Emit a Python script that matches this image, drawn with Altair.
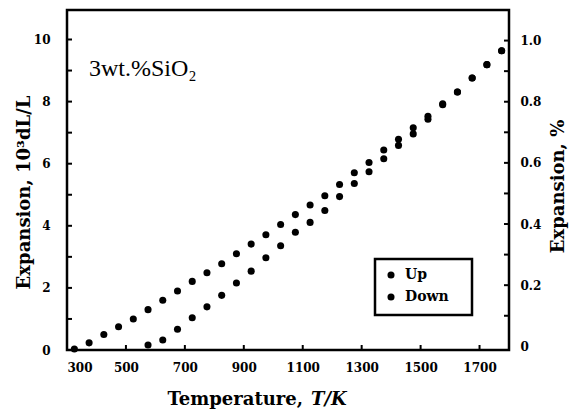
import altair as alt
import pandas as pd

# ---- data ----
temps_up = [325, 375, 425, 475, 525, 575, 625, 675, 725, 775, 825, 875, 925, 975, 1025,
            1075, 1125, 1175, 1225, 1275, 1325, 1375, 1425, 1475, 1525, 1575, 1625, 1675, 1725, 1775]
exp_up = [0.03, 0.23, 0.50, 0.75, 1.00, 1.30, 1.60, 1.90, 2.21, 2.49, 2.78, 3.10, 3.41, 3.71, 4.04,
          4.36, 4.67, 4.97, 5.33, 5.71, 6.04, 6.44, 6.79, 7.16, 7.53, 7.93, 8.31, 8.76, 9.19, 9.64]
temps_down = [575, 625, 675, 725, 775, 825, 875, 925, 975, 1025, 1075, 1125, 1175, 1225, 1275,
              1325, 1375, 1425, 1475, 1525, 1575, 1625, 1675, 1725, 1775]
exp_down = [0.16, 0.32, 0.67, 1.04, 1.39, 1.76, 2.16, 2.54, 2.97, 3.36, 3.79, 4.11, 4.49, 4.94, 5.36,
            5.74, 6.16, 6.59, 6.96, 7.43, 7.90, 8.31, 8.76, 9.19, 9.64]

x_labels = [300, 500, 700, 900, 1100, 1300, 1500, 1700]
x_ticks = [500, 700, 900, 1100, 1300, 1500, 1700]
left_labels = [0, 2, 4, 6, 8, 10]
left_ticks = [1, 2, 3, 4, 5, 6, 7, 8, 9, 10]
right_labels = [0, 0.2, 0.4, 0.6, 0.8, 1.0]
right_ticks = [0.1, 0.2, 0.3, 0.4, 0.5, 0.6, 0.7, 0.8, 0.9, 1.0]
series_names = ["Up", "Down"]
annotation = "3wt.%SiO\u2082"

W, H = 442, 340
FONT = "DejaVu Serif"
DOT = 50

df = pd.DataFrame({
    "T": temps_up + temps_down,
    "E": exp_up + exp_down,
    "series": ["Up"] * len(exp_up) + ["Down"] * len(exp_down),
})

xscale = alt.Scale(domain=[300, 1800], nice=False, zero=False)
yscale = alt.Scale(domain=[0, 10.95], nice=False, zero=False)
rscale = alt.Scale(domain=[-0.012, 1.1], nice=False, zero=False)

points = alt.Chart(df).mark_circle(size=DOT, color="black", opacity=1).encode(
    x=alt.X("T:Q", scale=xscale,
            axis=alt.Axis(values=x_labels, format="d", ticks=False, tickSize=0, domain=False,
                          grid=False, title=None, labelPadding=12, labelFontSize=12)),
    y=alt.Y("E:Q", scale=yscale,
            axis=alt.Axis(values=left_labels, ticks=False, tickSize=0, domain=False, grid=False,
                          labelPadding=17, labelFontSize=12,
                          title="Expansion, 10\u00b3dL/L", titleFont=FONT, titleFontSize=18,
                          titleFontWeight="bold", titleColor="black", titleAngle=270,
                          titleX=-43, titleY=182, titleAlign="center", titleBaseline="middle")),
)

xt = alt.Chart(pd.DataFrame({"t": x_ticks})).mark_rule(color="black", strokeWidth=2).encode(
    x=alt.X("t:Q", scale=xscale), y=alt.value(H), y2=alt.value(H - 5))

lt = alt.Chart(pd.DataFrame({"v": left_ticks})).mark_rule(color="black", strokeWidth=2).encode(
    y=alt.Y("v:Q", scale=yscale), x=alt.value(0), x2=alt.value(5))

title_a = alt.Chart(pd.DataFrame({"s": ["Temperature,"]})).mark_text(
    font=FONT, fontSize=18, fontWeight="bold", align="right", baseline="middle", color="black"
).encode(text="s:N", x=alt.value(236), y=alt.value(390))
title_b = alt.Chart(pd.DataFrame({"s": ["T/K"]})).mark_text(
    font=FONT, fontSize=18, fontWeight="bold", fontStyle="italic", align="left",
    baseline="middle", color="black"
).encode(text="s:N", x=alt.value(244), y=alt.value(390))

anno = alt.Chart(pd.DataFrame({"s": [annotation]})).mark_text(
    font="Liberation Serif", fontSize=24, align="left", baseline="middle", color="black"
).encode(text="s:N", x=alt.value(22), y=alt.value(59))

leg_box = alt.Chart(pd.DataFrame({"a": [0]})).mark_rect(
    fill="white", stroke="black", strokeWidth=2.5
).encode(x=alt.value(308), x2=alt.value(405), y=alt.value(249), y2=alt.value(305))

leg_layers = []
for name, ypos in zip(series_names, [265, 287]):
    d = pd.DataFrame({"s": [name]})
    leg_layers.append(alt.Chart(d).mark_circle(size=DOT, color="black", opacity=1).encode(
        x=alt.value(324), y=alt.value(ypos)))
    leg_layers.append(alt.Chart(d).mark_text(
        font=FONT, fontSize=14, fontWeight="bold", align="left", baseline="middle", color="black"
    ).encode(text="s:N", x=alt.value(338), y=alt.value(ypos)))

left = alt.layer(points, xt, lt, title_a, title_b, anno, leg_box, *leg_layers)

rt = alt.Chart(pd.DataFrame({"p": right_ticks})).mark_rule(color="black", strokeWidth=2).encode(
    y=alt.Y("p:Q", scale=rscale,
            axis=alt.Axis(orient="right", values=right_labels, ticks=False, tickSize=0,
                          domain=False, grid=False, labelPadding=11, labelFontSize=12,
                          labelExpr="datum.value == 0 ? '0' : format(datum.value, '.1f')",
                          title="Expansion, %", titleFont=FONT, titleFontSize=18,
                          titleFontWeight="bold", titleColor="black", titleAngle=270,
                          titleX=49, titleY=176, titleAlign="center", titleBaseline="middle")),
    x=alt.value(W), x2=alt.value(W - 5))

chart = alt.layer(left, rt).resolve_scale(y="independent").properties(
    width=W, height=H,
    autosize=alt.AutoSizeParams(type="none"),
    padding={"left": 67, "top": 10, "right": 62, "bottom": 67},
    background="white",
).configure_view(
    stroke="black", strokeWidth=2.5
).configure_axis(
    labelFont=FONT, labelFontWeight="bold", labelColor="black"
)

chart.save("out.html", embed_options={"renderer": "svg", "actions": False})
